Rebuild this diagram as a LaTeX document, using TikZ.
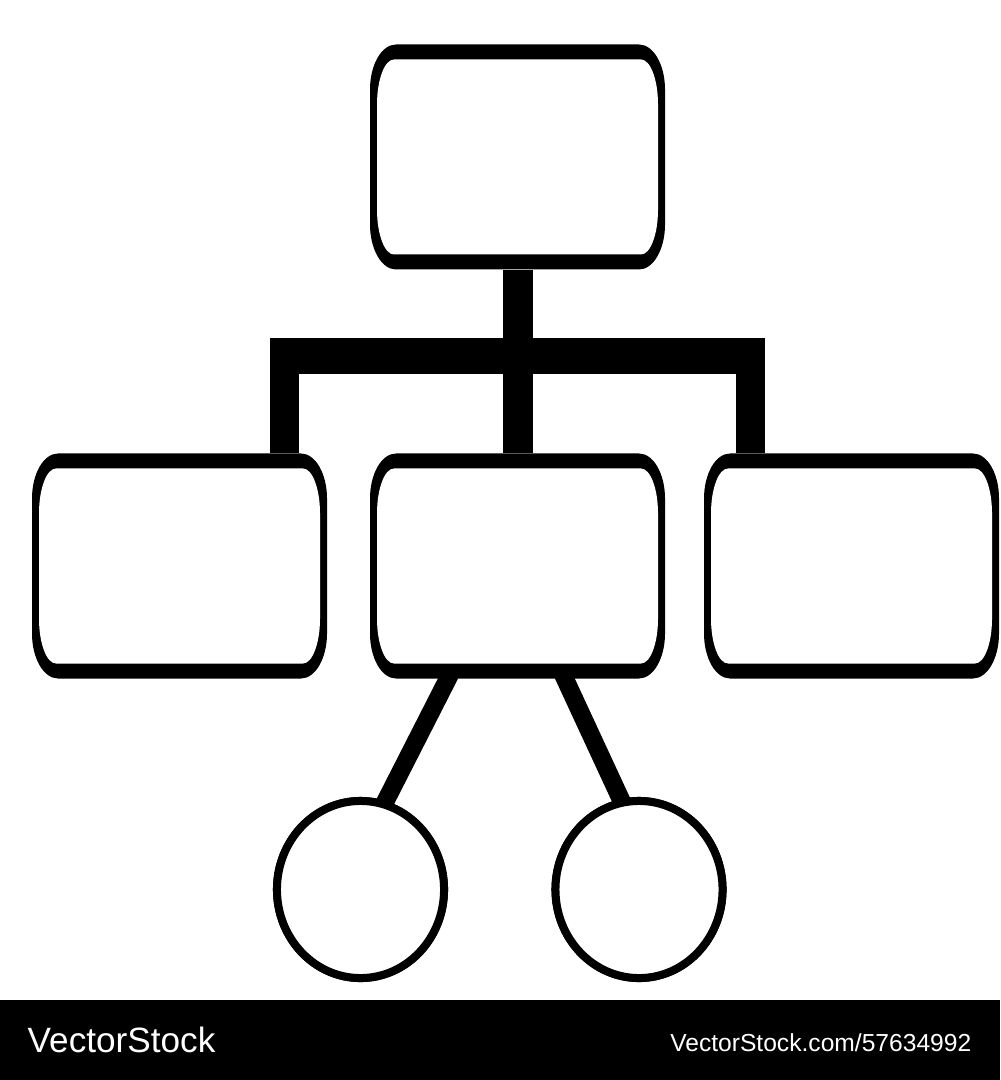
\documentclass[tikz,border=0pt]{standalone}
\usepackage{fontspec}
\setmainfont{Liberation Sans}
\usetikzlibrary{calc,shapes.geometric}
% rounded rectangle with elliptical corners, centred at the local origin
\newcommand\ERfill[5]{\fill[#5] (-#1+#3,-#2) -- (#1-#3,-#2) .. controls (#1-0.4477*#3,-#2) and (#1,-#2+0.4477*#4) .. (#1,-#2+#4) -- (#1,#2-#4) .. controls (#1,#2-0.4477*#4) and (#1-0.4477*#3,#2) .. (#1-#3,#2) -- (-#1+#3,#2) .. controls (-#1+0.4477*#3,#2) and (-#1,#2-0.4477*#4) .. (-#1,#2-#4) -- (-#1,-#2+#4) .. controls (-#1,-#2+0.4477*#4) and (-#1+0.4477*#3,-#2) .. (-#1+#3,-#2) -- cycle;}
\tikzset{
  ringbox/.pic={\ERfill{147.5}{112.5}{26}{45}{black}\ERfill{140.5}{97.5}{17}{45}{white}},
  boxnode/.style={rectangle,inner sep=0pt,outer sep=0pt,minimum width=2.95cm,minimum height=2.25cm},
  leafnode/.style={ellipse,draw=black,fill=white,line width=0.08cm,inner sep=0pt,minimum width=1.67cm,minimum height=1.77cm},
  stem/.style={line width=0.30cm},
  leg/.style={line width=0.29cm},
  busline/.style={line width=0.36cm},
  twig/.style={line width=0.18cm},
  mark text/.style={text=white,inner sep=0pt}
}
\begin{document}
\begin{tikzpicture}[x=0.01cm,y=-0.01cm]
\useasboundingbox (0,0) rectangle (1000,1080);
\fill[white] (0,0) rectangle (1000,1080);
% nodes (placement)
\node[boxnode] (top) at (517.5,157) {};
\node[boxnode] (left) at (179.5,566) {};
\node[boxnode] (mid) at (517.5,566) {};
\node[boxnode] (right) at (851.5,566) {};
\coordinate (jL) at (284.5,356);
\coordinate (jR) at (750.5,356);
% connectors
\draw[stem] (top.south) -- (mid.north);
\draw[busline] ($(jL)+(-14.5,0)$) -- ($(jR)+(14.5,0)$);
\draw[leg] (jL) -- (jL |- left.north);
\draw[leg] (jR) -- (jR |- right.north);
\coordinate (tA) at ($(mid.south)+(-67.5,-4)$);
\coordinate (tB) at ($(mid.south)+(45.5,-4)$);
\node[leafnode] (c1) at (360.5,889.5) {};
\node[leafnode] (c2) at (639,889.5) {};
\coordinate (eA) at ($(c1.center)+(19.5,-77.5)$);
\coordinate (eB) at ($(c2.center)+(-12.3,-77.5)$);
\draw[twig] (tA) -- (eA);
\draw[twig] (tB) -- (eB);
% boxes
\pic at (top) {ringbox};
\pic at (left) {ringbox};
\pic at (mid) {ringbox};
\pic at (right) {ringbox};
% leaves on top of connectors
\node[leafnode] at (c1) {};
\node[leafnode] at (c2) {};
% footer
\fill[black] (0,1000) rectangle (1000,1080);
\node[mark text,anchor=base west,font=\fontsize{10}{12}\selectfont] (brand) at (27,1052) {VectorStock};
\node[mark text,anchor=base east,font=\fontsize{7}{8.4}\selectfont] (ref) at (972,1051) {VectorStock.com/57634992};
\end{tikzpicture}
\end{document}
